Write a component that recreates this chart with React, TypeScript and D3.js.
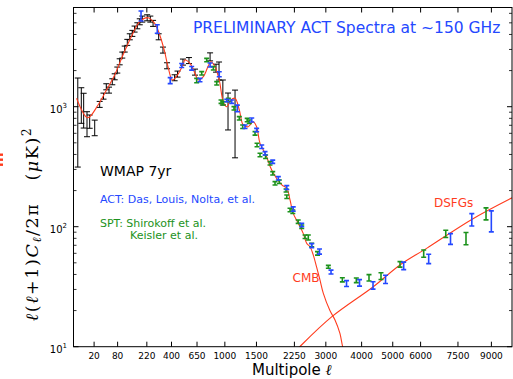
import React from 'react';
import * as d3 from 'd3';

// ---- data (ell, D_ell [uK^2], error) ----
const xTickValues = [20, 80, 220, 400, 650, 1000, 1500, 2250, 3000, 4000, 5000, 6000, 7500, 9000];
const yMajorTicks = [10, 100, 1000];

const wmapPoints: [number, number, number][] = [
  [2.6, 1024, 710], [4.85, 1083, 356], [6.8, 979, 315], [10.2, 735, 173], [13.5, 757, 96], [21, 673, 100],
  [30.3, 1047, 60], [38.7, 1227, 71], [45.6, 1468, 85], [52.9, 1377, 79], [62.5, 1616, 93], [70.1, 1778, 102],
  [78.9, 2023, 117], [87.4, 2371, 137], [97.3, 2697, 155], [107, 3027, 174], [118, 3442, 198], [129, 3831, 221],
  [141, 4090, 236], [152, 4442, 256], [166, 4732, 273], [179, 5109, 294], [193, 5380, 310], [222, 5517, 318],
  [242, 5380, 310], [260, 4955, 285], [299, 3831, 221], [331, 2968, 171], [363, 2197, 127], [427, 1745, 100],
  [453, 1873, 108], [504, 2358, 136], [564, 2427, 140], [628, 1945, 112], [804, 2610, 200], [880, 2101, 160],
  [920, 2013, 345], [972, 1351, 318], [1045, 970, 330], [1149, 875, 500],
];

const actPoints: [number, number, number][] = [
  [186, 5732, 550], [289, 4458, 368], [389, 1653, 95], [492, 2204, 85], [592, 2089, 72], [683, 1669, 54],
  [804, 2226, 85], [923, 1866, 90], [1027, 1127, 26], [1099, 1101, 36], [1184, 970, 61], [1306, 681, 22],
  [1418, 775, 30], [1503, 639, 21], [1594, 464, 15], [1655, 409, 13], [1801, 348, 11], [1912, 253, 8.3],
  [2086, 212, 8.1], [2224, 140.4, 5.9], [2414, 103.3, 3.4], [2648, 69.6, 2.7], [2840, 62.1, 3.0],
  [3135, 41.9, 1.6], [3559, 33.6, 1.9], [3937, 34.1, 2.1], [4352, 32.5, 2.3], [4757, 36.5, 2.9],
  [5381, 47.3, 3.4], [6309, 54.1, 4.9], [7186, 79.4, 8.1], [8103, 115, 13.5], [8997, 113, 22.4],
];

const sptPoints: [number, number, number][] = [
  [646, 1653, 70], [703, 1898, 62], [762, 2449, 80], [845, 2089, 68], [889, 1567, 51], [947, 1101, 36],
  [978, 1067, 35], [1050, 1136, 37], [1133, 970, 32], [1215, 801, 26], [1268, 681, 22], [1342, 775, 25],
  [1376, 750, 24], [1475, 600, 20], [1510, 479.6, 16], [1563, 396, 13], [1665, 383, 12.5], [1749, 337.6, 11],
  [1801, 278.6, 9], [1846, 230, 7.5], [1932, 237, 7.7], [2071, 200.3, 5.8], [2086, 177.8, 5.8],
  [2155, 137.8, 4.5], [2215, 133.4, 4.4], [2334, 110.1, 3.6], [2414, 100, 3.3], [2491, 82.5, 2.7],
  [2567, 81.3, 3.9], [2648, 70.4, 2.3], [2790, 60, 2], [3065, 46.3, 1.3], [3442, 36.1, 1.4],
  [3842, 35.8, 1.6], [4226, 37.6, 2.3], [4608, 38.8, 2.5], [5251, 48.6, 2.6], [6117, 59.8, 4.1],
  [6990, 87.3, 6.0], [7847, 80.2, 9.4], [8749, 128.8, 14.8],
];

const cmbModel: [number, number][] = [
  [2, 1175], [11, 810], [27, 1033], [46, 1377], [70, 1837], [100, 2697], [136, 3831], [179, 5109],
  [227, 5517], [271, 4955], [311, 3831], [344, 2872], [371, 2154], [407, 1669], [442, 1778], [504, 2226],
  [524, 2449], [574, 2300], [628, 1898], [664, 1669], [722, 1778], [815, 2371], [866, 2154], [923, 1669],
  [978, 1101], [1027, 1000], [1085, 1136], [1149, 1175], [1215, 939], [1277, 704], [1358, 681],
  [1443, 750], [1503, 681], [1563, 495], [1671, 396], [1781, 297], [1982, 223], [2086, 209], [2155, 167],
  [2224, 129], [2334, 107], [2448, 88], [2528, 72.7], [2608, 68], [2687, 58], [2768, 46], [2851, 36],
  [2934, 28], [3106, 20], [3241, 16.7], [3375, 12.9], [3450, 10], [3550, 8],
];

const dsfgModel: [number, number][] = [
  [2000, 7.1], [2370, 10], [3150, 17.7], [4360, 31.6], [5250, 48], [6230, 66], [8100, 115], [10000, 174],
];

const RED = '#ff3c1e';
const BLUE = '#2448ff';
const GREEN = '#1c921c';
const FONT = 'DejaVu Sans';

export default function App() {
  const W = 513, H = 379;
  const left = 73.5, right = 512, top = 7.5, bottom = 346.7;
  const x = d3.scalePow().exponent(0.45).domain([1, 10000]).range([74, 512]);
  const y = d3.scaleLog().domain([10, 6710]).range([bottom, top]);

  const minorY: number[] = [];
  [10, 100, 1000].forEach((dec) => {
    for (let k = 2; k <= 9; k++) {
      const v = dec * k;
      if (v <= 6710) minorY.push(v);
    }
  });

  const line = d3
    .line<[number, number]>()
    .x((d) => x(d[0]))
    .y((d) => y(d[1]))
    .curve(d3.curveCatmullRom.alpha(0.5));

  const errBars = (pts: [number, number, number][], color: string, sw: number, cw: number, key: string) =>
    pts.map((p, i) => {
      const X = x(p[0]);
      const y1 = y(Math.max(p[1] - p[2], 1));
      const y2 = y(p[1] + p[2]);
      return (
        <g key={key + i} stroke={color} strokeWidth={sw}>
          <line x1={X} x2={X} y1={y1} y2={y2} />
          <line x1={X - cw} x2={X + cw} y1={y1} y2={y1} />
          <line x1={X - cw} x2={X + cw} y1={y2} y2={y2} />
        </g>
      );
    });

  return (
    <svg width={W} height={H} style={{ position: 'absolute', left: 0, top: 0, background: '#fff' }}
      xmlns="http://www.w3.org/2000/svg">
      <rect x={0} y={0} width={W} height={H} fill="#fff" />
      <defs>
        <clipPath id="plotclip">
          <rect x={left} y={top} width={right - left} height={bottom - top} />
        </clipPath>
      </defs>

      {/* cropped red marks at left edge */}
      {[153.5, 158.5, 163.5].map((yy, i) => (
        <rect key={'rm' + i} x={0} y={yy} width={3} height={2.4} fill={RED} />
      ))}

      <g clipPath="url(#plotclip)">
        {errBars(wmapPoints, '#000', 1, 3, 'w')}
        <path d={line(cmbModel) || ''} fill="none" stroke={RED} strokeWidth={1.1} />
        <path d={line(dsfgModel) || ''} fill="none" stroke={RED} strokeWidth={1.1} />
        {errBars(sptPoints, GREEN, 1.6, 2.5, 's')}
        {errBars(actPoints, BLUE, 1.6, 2.5, 'a')}
      </g>

      {/* frame */}
      <rect x={left} y={top} width={right - left} height={bottom - top} fill="none" stroke="#000" strokeWidth={1} />

      {/* x ticks */}
      {xTickValues.map((t) => (
        <g key={'xt' + t}>
          <line x1={x(t)} x2={x(t)} y1={bottom} y2={bottom - 5} stroke="#000" strokeWidth={1} />
          <line x1={x(t)} x2={x(t)} y1={top} y2={top + 5} stroke="#000" strokeWidth={1} />
          <text x={x(t)} y={358.5} textAnchor="middle" fontFamily={FONT} fontSize={9}>{t}</text>
        </g>
      ))}

      {/* y ticks */}
      {yMajorTicks.map((t, i) => (
        <g key={'yt' + t}>
          <line x1={left} x2={left + 5} y1={y(t)} y2={y(t)} stroke="#000" strokeWidth={1} />
          <line x1={right} x2={right - 5} y1={y(t)} y2={y(t)} stroke="#000" strokeWidth={1} />
          <text x={67} y={y(t) + 6.5} textAnchor="end" fontFamily={FONT} fontSize={10}>
            10<tspan fontSize={7} dy={-5}>{i + 1}</tspan>
          </text>
        </g>
      ))}
      {minorY.map((t) => (
        <g key={'ym' + t}>
          <line x1={left} x2={left + 3} y1={y(t)} y2={y(t)} stroke="#000" strokeWidth={0.8} />
          <line x1={right} x2={right - 3} y1={y(t)} y2={y(t)} stroke="#000" strokeWidth={0.8} />
        </g>
      ))}

      {/* axis labels */}
      <text x={252} y={375} fontFamily={FONT} fontSize={15}>
        Multipole <tspan fontFamily="DejaVu Serif" fontStyle="italic">ℓ</tspan>
      </text>
      <text transform="translate(38,224) rotate(-90)" textAnchor="middle" fontFamily="DejaVu Serif"
        fontSize={17.5} letterSpacing={1.6}>
        <tspan fontStyle="italic">ℓ</tspan>(<tspan fontStyle="italic">ℓ</tspan>+1)<tspan fontStyle="italic">C</tspan>
        <tspan fontStyle="italic" fontSize={12} dy={3}>ℓ</tspan>
        <tspan dy={-3}>/2π</tspan>
        <tspan dx={22}>(</tspan><tspan fontStyle="italic">μ</tspan>K)<tspan fontSize={12} dy={-7}>2</tspan>
      </text>

      {/* annotations */}
      <text x={193} y={33} fontFamily={FONT} fontSize={15.5} fill={BLUE}>PRELIMINARY ACT Spectra at ~150 GHz</text>
      <text x={100} y={176} fontFamily={FONT} fontSize={14} fill="#000">WMAP 7yr</text>
      <text x={100} y={203} fontFamily={FONT} fontSize={11} fill={BLUE}>ACT: Das, Louis, Nolta, et al.</text>
      <text x={100} y={227} fontFamily={FONT} fontSize={11} fill={GREEN}>SPT: Shirokoff et al.</text>
      <text x={130} y={238.5} fontFamily={FONT} fontSize={11} fill={GREEN}>Keisler et al.</text>
      <text x={434} y={206.5} fontFamily={FONT} fontSize={12} fill={RED}>DSFGs</text>
      <text x={292.5} y={281.7} fontFamily={FONT} fontSize={12} fill={RED}>CMB</text>
    </svg>
  );
}
